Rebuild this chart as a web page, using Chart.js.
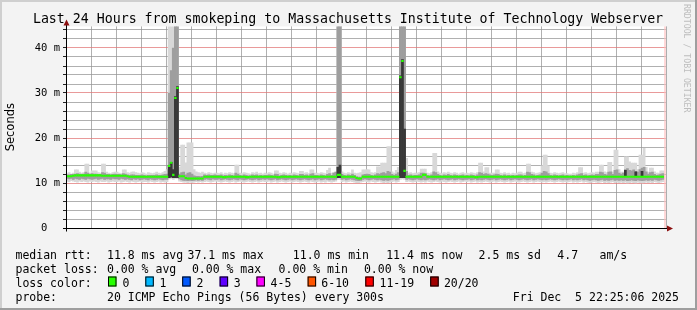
<!DOCTYPE html>
<html><head><meta charset="utf-8">
<script src="https://cdn.jsdelivr.net/npm/chart.js@4.4.1/dist/chart.umd.min.js"></script>
<style>html,body{margin:0;padding:0;background:#f3f3f3;overflow:hidden}</style>
</head><body>
<canvas id="c" width="697" height="310"></canvas>
<script>
// ---------- data (5-minute samples, 288 per 24 h, starting Thu 22:25:06) ----------
const timeLabels = ['Fri 00:00','Fri 04:00','Fri 08:00','Fri 12:00','Fri 16:00','Fri 20:00'];
const yLabels = ['0  ','10 m','20 m','30 m','40 m'];

// median RTT (ms)
const med = [
11.5,11.5,11.5,11.6,11.7,11.7,11.7,11.7,11.7,11.7,11.7,11.7,11.7,11.7,11.7,11.7,11.7,11.6,11.6,11.6,11.6,11.6,11.6,11.6,
11.6,11.6,11.6,11.6,11.6,11.5,11.4,11.4,11.4,11.4,11.4,11.4,11.4,11.4,11.4,11.4,11.4,11.4,11.4,11.4,11.4,11.4,11.4,11.4,
11.4,13.8,14.5,11.8,28.9,31.1,11.5,11.5,11.5,11.1,11.0,11.0,11.0,11.0,11.0,11.0,11.0,11.0,11.4,11.4,11.4,11.4,11.4,11.4,
11.4,11.4,11.4,11.3,11.3,11.4,11.4,11.4,11.4,11.4,11.4,11.4,11.4,11.4,11.3,11.3,11.4,11.4,11.4,11.4,11.4,11.4,11.4,11.4,
11.4,11.4,11.4,11.4,11.4,11.3,11.3,11.4,11.4,11.4,11.4,11.4,11.4,11.4,11.4,11.4,11.4,11.4,11.4,11.4,11.4,11.4,11.4,11.4,
11.4,11.4,11.4,11.4,11.4,11.4,11.4,11.4,11.4,11.4,11.8,11.8,11.4,11.4,11.4,11.4,11.4,11.4,11.4,11.1,11.0,11.0,11.4,11.4,
11.4,11.4,11.4,11.4,11.4,11.4,11.4,11.4,11.4,11.4,11.4,11.4,11.4,11.4,11.4,11.4,33.5,37.1,12.7,11.4,11.4,11.4,11.4,11.4,
11.4,11.4,11.4,11.8,11.8,11.4,11.4,11.4,11.4,11.4,11.4,11.4,11.4,11.4,11.4,11.4,11.4,11.4,11.4,11.4,11.4,11.4,11.4,11.4,
11.4,11.4,11.4,11.4,11.3,11.3,11.4,11.4,11.4,11.4,11.4,11.4,11.4,11.4,11.4,11.4,11.4,11.4,11.4,11.4,11.4,11.4,11.4,11.4,
11.4,11.4,11.4,11.4,11.4,11.4,11.4,11.4,11.4,11.4,11.4,11.4,11.4,11.4,11.4,11.4,11.4,11.4,11.4,11.4,11.4,11.4,11.4,11.4,
11.4,11.4,11.4,11.4,11.4,11.4,11.4,11.4,11.4,11.4,11.4,11.4,11.4,11.4,11.4,11.4,11.4,11.4,11.4,11.4,11.4,11.4,11.4,11.4,
11.4,11.4,11.4,11.4,11.4,11.4,11.4,11.4,11.4,11.4,11.4,11.4,11.4,11.4,11.4,11.4,11.4,11.4,11.4,11.4,11.4,11.4,11.4,null];

// lowest ping of each sample (ms)
const lo = [
10.4,10.3,10.5,10.4,10.3,10.2,10.4,10.3,10.4,10.3,10.2,10.4,10.3,10.4,10.3,10.2,10.4,10.3,10.3,10.4,10.2,10.3,10.4,10.3,
10.3,10.4,10.2,10.3,10.4,10.3,10.2,10.4,10.3,10.2,10.3,10.4,10.2,10.3,10.3,10.2,10.4,10.3,10.2,10.3,10.4,10.2,10.3,10.2,
10.3,10.9,11.0,10.8,11.0,11.0,10.4,10.3,10.2,10.2,10.1,10.2,10.1,10.2,10.3,10.2,10.3,10.2,10.3,10.4,10.3,10.2,10.3,10.4,
10.4,10.3,10.2,10.3,10.4,10.3,10.2,10.3,10.4,10.2,10.3,10.4,10.3,10.2,10.3,10.4,10.3,10.2,10.3,10.4,10.2,10.3,10.4,10.3,
10.3,10.4,10.2,10.3,10.4,10.2,10.3,10.4,10.3,10.2,10.3,10.4,10.2,10.3,10.4,10.3,10.2,10.3,10.4,10.3,10.2,10.4,10.3,10.2,
10.3,10.4,10.2,10.3,10.2,10.4,10.3,10.2,10.3,10.4,10.8,10.8,10.3,10.4,10.2,10.3,10.4,10.3,10.2,10.1,10.1,10.2,10.3,10.4,
10.3,10.2,10.4,10.3,10.2,10.3,10.4,10.2,10.1,10.2,10.1,10.2,10.3,10.4,10.2,10.3,10.8,10.9,10.8,10.3,10.4,10.3,10.2,10.3,
10.4,10.3,10.2,10.3,10.2,10.4,10.3,10.2,10.3,10.4,10.3,10.2,10.4,10.3,10.2,10.3,10.4,10.3,10.2,10.3,10.4,10.2,10.3,10.4,
10.3,10.4,10.2,10.3,10.4,10.2,10.3,10.2,10.3,10.4,10.3,10.2,10.3,10.4,10.2,10.3,10.4,10.3,10.2,10.3,10.4,10.2,10.3,10.4,
10.3,10.2,10.3,10.4,10.3,10.2,10.3,10.4,10.2,10.3,10.4,10.3,10.2,10.3,10.2,10.3,10.4,10.3,10.2,10.3,10.4,10.3,10.2,10.3,
10.2,10.3,10.4,10.2,10.3,10.2,10.3,10.4,10.2,10.3,10.2,10.1,10.2,10.3,10.2,10.1,10.2,10.3,10.1,10.2,10.1,10.2,10.3,10.1,
10.2,10.1,10.2,10.1,10.2,10.0,10.1,10.2,10.1,10.0,10.2,10.1,10.0,10.1,10.2,10.1,10.2,10.1,10.3,10.2,10.1,10.2,10.3,null];

// highest ping of each sample (ms); 50 = off the top of the graph
const hi = [
12.1,12.3,12.0,12.2,12.9,12.9,12.4,12.2,12.3,14.2,14.2,12.2,12.7,12.7,12.7,12.3,12.2,14.2,14.2,12.4,12.2,12.1,12.3,12.4,
12.4,12.2,12.1,12.9,12.9,12.3,12.2,12.4,12.5,12.3,12.2,12.1,12.3,12.2,12.0,12.3,12.2,12.1,12.2,12.4,12.2,12.1,12.3,12.6,
13.0,50,50,50,50,50,13.5,18.4,18.4,14.5,18.9,18.9,18.9,13.0,12.5,12.3,12.2,12.4,12.2,12.1,12.3,12.2,12.1,12.2,
12.2,12.1,12.3,12.0,12.2,12.1,12.3,12.2,12.1,14.0,14.0,12.2,12.1,12.3,12.2,12.1,12.0,12.3,12.2,12.4,12.1,12.2,12.0,12.2,
12.1,12.3,12.2,12.0,12.7,12.7,12.2,12.1,12.3,12.2,12.0,12.2,12.1,12.3,12.2,12.1,12.6,12.6,12.2,12.3,12.1,12.9,12.9,12.2,
12.2,12.1,12.3,12.2,12.1,12.8,13.3,12.2,12.3,12.4,50,50,12.5,12.2,12.1,12.3,12.2,12.9,12.2,12.1,12.2,12.3,12.9,12.9,
13.0,12.9,12.3,12.2,12.3,13.6,13.6,14.4,14.4,14.4,18.1,18.1,12.5,12.2,12.8,13.5,50,50,50,15.5,12.2,12.3,12.1,12.2,
12.2,12.3,13.1,13.1,13.1,12.2,12.1,12.3,16.6,16.6,12.5,12.2,12.1,12.3,12.2,12.4,12.2,12.1,12.3,12.2,12.0,12.2,12.3,12.1,
12.2,12.1,12.3,12.2,12.1,12.3,14.4,14.4,12.5,13.4,13.4,12.2,12.2,12.2,12.9,12.9,12.2,12.1,12.3,12.1,12.2,12.0,12.2,12.1,
12.2,12.4,12.4,12.1,12.2,14.2,14.2,12.4,12.3,12.1,12.2,12.3,13.8,16.2,16.2,13.8,12.2,12.1,12.3,12.2,12.1,12.2,12.3,12.1,
12.1,12.0,12.0,12.2,12.1,12.3,13.4,13.4,12.2,12.3,12.1,12.2,12.3,12.2,12.4,12.4,14.0,14.0,12.5,12.3,14.6,14.6,12.4,17.3,
17.3,13.0,12.4,12.4,15.8,15.8,14.7,14.4,14.4,14.4,13.0,16.2,16.2,17.7,13.5,12.4,13.3,13.3,12.5,12.2,12.2,12.7,12.7,null];

// inner (denser) part of the smoke: lower and upper bound (ms)
const q1 = [
11.0,10.9,11.0,10.8,11.0,10.9,10.8,11.0,10.9,10.8,11.0,10.9,10.8,10.9,11.0,10.8,10.9,11.0,10.8,10.9,10.9,10.8,11.0,10.9,
10.9,10.8,11.0,10.9,10.8,10.9,10.8,10.7,10.9,10.8,10.9,10.7,10.8,10.9,10.8,10.7,10.9,10.8,10.7,10.8,10.9,10.8,10.7,10.8,
10.8,11.3,11.4,11.2,11.3,11.3,10.9,10.7,10.6,10.6,10.5,10.6,10.5,10.6,10.7,10.6,10.7,10.6,10.8,10.9,10.8,10.7,10.9,10.8,
10.8,10.9,10.7,10.8,10.9,10.8,10.7,10.8,10.9,10.8,10.7,10.9,10.8,10.7,10.8,10.9,10.8,10.7,10.8,10.9,10.7,10.8,10.9,10.8,
10.9,10.8,10.7,10.8,10.9,10.7,10.8,10.9,10.8,10.7,10.8,10.9,10.7,10.8,10.9,10.8,10.7,10.8,10.9,10.8,10.7,10.8,10.9,10.7,
10.8,10.9,10.7,10.8,10.9,10.8,10.7,10.8,10.7,10.8,11.2,11.2,10.8,10.9,10.7,10.8,10.9,10.8,10.7,10.6,10.5,10.6,10.8,10.9,
10.8,10.7,10.8,10.9,10.8,10.7,10.8,10.7,10.6,10.7,10.6,10.7,10.8,10.9,10.7,10.8,11.2,11.2,11.2,10.8,10.9,10.8,10.7,10.8,
10.9,10.8,10.7,10.8,10.7,10.8,10.9,10.8,10.7,10.8,10.9,10.7,10.8,10.9,10.8,10.7,10.8,10.9,10.7,10.8,10.9,10.8,10.7,10.8,
10.8,10.9,10.7,10.8,10.9,10.7,10.8,10.7,10.8,10.9,10.8,10.7,10.8,10.9,10.7,10.8,10.9,10.8,10.7,10.8,10.9,10.7,10.8,10.9,
10.8,10.7,10.8,10.9,10.8,10.7,10.8,10.9,10.7,10.8,10.9,10.8,10.7,10.8,10.7,10.8,10.9,10.8,10.7,10.8,10.9,10.8,10.7,10.8,
10.7,10.8,10.9,10.7,10.8,10.7,10.8,10.9,10.7,10.8,10.7,10.6,10.7,10.8,10.7,10.6,10.7,10.8,10.6,10.7,10.6,10.7,10.8,10.6,
10.7,10.6,10.7,10.6,10.7,10.5,10.6,10.7,10.6,10.5,10.7,10.6,10.5,10.6,10.7,10.6,10.7,10.6,10.8,10.7,10.6,10.7,10.8,null];
const q3 = [
11.8,11.8,11.9,11.9,12.0,12.1,12.0,11.9,12.0,12.4,12.2,11.9,12.1,12.0,12.0,11.9,11.9,12.3,12.2,11.9,11.9,11.8,11.9,12.0,
11.9,11.9,11.8,12.1,12.0,11.8,11.7,11.8,11.8,11.7,11.7,11.7,11.8,11.7,11.6,11.7,11.7,11.7,11.7,11.8,11.7,11.7,11.8,11.9,
12.0,30,35,40,50,50,12.0,12.3,12.4,11.8,12.2,12.3,12.0,11.6,11.5,11.5,11.4,11.5,11.8,11.7,11.8,11.7,11.7,11.8,
11.7,11.7,11.8,11.6,11.7,11.6,11.8,11.7,11.6,12.2,12.0,11.7,11.6,11.8,11.7,11.6,11.6,11.8,11.7,11.8,11.6,11.7,11.6,11.7,
11.7,11.8,11.7,11.6,12.0,11.9,11.6,11.7,11.8,11.7,11.6,11.7,11.6,11.8,11.7,11.6,11.9,11.9,11.7,11.8,11.6,12.0,12.1,11.7,
11.7,11.6,11.8,11.7,11.6,11.9,12.1,11.7,12.2,12.4,50,45,11.9,11.7,11.6,11.8,11.7,12.0,11.7,11.4,11.3,11.3,11.8,11.9,
12.0,11.9,11.7,11.6,11.8,12.1,12.0,12.2,12.3,12.1,12.6,12.4,11.9,11.7,12.0,12.3,50,50,50,12.6,11.7,11.8,11.6,11.7,
11.7,11.8,12.2,12.2,12.1,11.7,11.6,11.8,12.5,12.3,11.9,11.7,11.6,11.8,11.7,11.9,11.7,11.6,11.8,11.7,11.6,11.7,11.8,11.6,
11.7,11.6,11.8,11.7,11.6,11.8,12.3,12.2,11.9,12.1,12.0,11.8,11.7,11.8,12.0,11.9,11.7,11.6,11.8,11.6,11.7,11.6,11.7,11.6,
11.7,11.8,11.8,11.6,11.7,12.4,12.3,11.9,11.8,11.6,11.7,11.8,12.2,12.6,12.5,12.1,11.7,11.6,11.8,11.7,11.6,11.7,11.8,11.6,
11.7,11.6,11.6,11.7,11.6,11.8,12.0,12.1,11.7,11.8,11.6,11.7,11.8,11.7,11.9,11.9,12.4,12.3,11.9,11.8,12.4,12.5,11.9,12.8,
12.9,12.2,12.0,12.2,13.0,13.2,12.8,12.7,12.9,12.6,12.4,13.0,13.3,13.5,12.5,12.0,12.3,12.4,11.9,11.7,11.8,12.0,12.1,null];

// darkest core of the smoke, only where it stands out (sample index, low, high)
const darkBins = [49, 50, 51, 52, 53, 130, 131, 160, 161, 162, 268, 273, 276];
const darkLo   = [11.2,11.3,11.2,11.2,11.2,11.2,11.2,11.2,11.2,11.2,11.5,11.4,11.4];
const darkHi   = [13.9,14.6,13.0,29.2,31.4,13.5,14.0,33.8,37.4,22.0,12.8,12.5,12.6];

const rttStats  = ['11.8 ms avg','37.1 ms max','11.0 ms min','11.4 ms now','2.5 ms sd','4.7','am/s'];
const lossStats = ['0.00 % avg','0.00 % max','0.00 % min','0.00 % now'];
const lossLabels = ['0','1','2','3','4-5','6-10','11-19','20/20'];
const lossColors = ['#26ff00','#00b8ff','#0059ff','#5e00ff','#ff00ff','#ff5500','#ff0000','#a10000'];

// ---------- chart ----------
const START_H = -(1 + (34 + 54/60) / 60);   // Thu 22:25:06 relative to Fri 00:00, in hours
const binX = i => START_H + (i + 0.5) / 12;

function bandData(a, b) {
  const out = [];
  for (let i = 0; i < a.length; i++) {
    if (a[i] == null || b[i] == null) continue;
    out.push({x: binX(i), y: [a[i], b[i]]});
  }
  return out;
}
const medData = [];
med.forEach((v, i) => { if (v != null) medData.push({x: binX(i), y: v}); });
const darkData = darkBins.map((b, k) => ({x: binX(b), y: [darkLo[k], darkHi[k]]}));

const MONO = '"DejaVu Sans Mono", monospace';
const RED_GRID = 'rgba(226,120,120,0.75)';
const GRAY_GRID = 'rgba(150,150,150,0.75)';

const barCommon = {type: 'bar', grouped: false, barPercentage: 1, categoryPercentage: 1, borderWidth: 0};

const deco = {
  id: 'deco',
  beforeDraw(chart) {
    const {ctx, chartArea: a, width: W, height: H} = chart;
    ctx.save();
    ctx.fillStyle = '#f3f3f3'; ctx.fillRect(0, 0, W, H);
    ctx.fillStyle = '#cfcfcf'; ctx.fillRect(0, 0, W, 2); ctx.fillRect(0, 0, 2, H);
    ctx.fillStyle = '#9e9e9e'; ctx.fillRect(0, H - 2, W, 2); ctx.fillRect(W - 2, 0, 2, H);
    ctx.fillStyle = '#ffffff'; ctx.fillRect(a.left, a.top, a.right - a.left, a.bottom - a.top);
    ctx.restore();
  },
  afterDatasetsDraw(chart) {
    const {ctx, chartArea: a} = chart;
    ctx.save();
    ctx.fillStyle = 'rgba(255,190,190,0.6)';
    ctx.fillRect(a.right - 2, a.top, 2, a.bottom - a.top);
    ctx.restore();
  },
  afterDraw(chart) {
    const {ctx, chartArea: a} = chart;
    ctx.save();
    // axes
    ctx.strokeStyle = '#000'; ctx.lineWidth = 1;
    ctx.beginPath();
    ctx.moveTo(a.left + 0.5, a.bottom + 3.5); ctx.lineTo(a.left + 0.5, a.top - 3);
    ctx.moveTo(a.left - 3, a.bottom + 0.5); ctx.lineTo(a.right + 3, a.bottom + 0.5);
    ctx.stroke();
    ctx.fillStyle = '#8b0f0f';
    ctx.beginPath();
    ctx.moveTo(a.left + 0.5, a.top - 7); ctx.lineTo(a.left - 2.5, a.top - 1); ctx.lineTo(a.left + 3.5, a.top - 1); ctx.closePath();
    ctx.fill();
    ctx.beginPath();
    ctx.moveTo(a.right + 7, a.bottom + 0.5); ctx.lineTo(a.right + 1, a.bottom - 2.5); ctx.lineTo(a.right + 1, a.bottom + 3.5); ctx.closePath();
    ctx.fill();

    // title
    ctx.fillStyle = '#000';
    ctx.font = '13.25px ' + MONO;
    ctx.textAlign = 'center'; ctx.textBaseline = 'alphabetic';
    ctx.fillText('Last 24 Hours from smokeping to Massachusetts Institute of Technology Webserver', 348, 23);

    // legend
    ctx.font = '11.5px ' + MONO;
    ctx.textAlign = 'left';
    const r1 = 258.6, r2 = 272.7, r3 = 286.8, r4 = 300.8;
    ctx.fillText('median rtt:', 15.5, r1);
    const rttX = [107, 187.5, 292.8, 386.2, 478.6, 557.3, 599.5];
    rttStats.forEach((t, k) => ctx.fillText(t, rttX[k], r1));
    ctx.fillText('packet loss:', 15.5, r2);
    const lossX = [107, 191.9, 278.6, 363.9];
    lossStats.forEach((t, k) => ctx.fillText(t, lossX[k], r2));
    ctx.fillText('loss color:', 15.5, r3);
    const boxX = [108, 145.3, 182.2, 219.6, 256.4, 307.6, 365.3, 430.2];
    const labX = [122.5, 159.5, 196.4, 233.7, 270.6, 321.3, 379.5, 443.9];
    lossLabels.forEach((t, k) => {
      ctx.fillStyle = lossColors[k];
      ctx.fillRect(boxX[k], 276.5, 8.5, 10);
      ctx.strokeStyle = '#000'; ctx.lineWidth = 1;
      ctx.strokeRect(boxX[k] + 0.5, 277, 7.5, 9);
      ctx.fillStyle = '#000';
      ctx.fillText(t, labX[k], r3);
    });
    ctx.fillText('probe:', 15.5, r4);
    ctx.fillText('20 ICMP Echo Pings (56 Bytes) every 300s', 107, r4);
    ctx.fillText('Fri Dec  5 22:25:06 2025', 512.8, r4);

    // rrdtool credit
    ctx.translate(686.5, 4);
    ctx.rotate(Math.PI / 2);
    ctx.font = '8.2px ' + MONO;
    ctx.fillStyle = '#bdbdbd';
    ctx.textBaseline = 'middle';
    ctx.fillText('RRDTOOL / TOBI OETIKER', 0, 0);
    ctx.restore();
  }
};

new Chart(document.getElementById('c'), {
  type: 'bar',
  data: {
    datasets: [
      {type: 'line', label: 'median', data: medData, order: 0, showLine: false,
       pointStyle: 'line', pointRadius: 1.2, pointHoverRadius: 1.2, pointBorderWidth: 2.1,
       pointBorderColor: '#26ff00', pointBackgroundColor: '#26ff00'},
      Object.assign({label: 'core', data: darkData, order: 1, backgroundColor: '#383838'}, barCommon),
      Object.assign({label: 'inner', data: bandData(q1, q3), order: 2, backgroundColor: '#9e9e9e'}, barCommon),
      Object.assign({label: 'outer', data: bandData(lo, hi), order: 3, backgroundColor: '#d8d8d8'}, barCommon)
    ]
  },
  options: {
    responsive: false,
    devicePixelRatio: 1,
    animation: false,
    events: [],
    layout: {padding: {left: 0, right: 31, top: 26.4, bottom: 0}},
    plugins: {legend: {display: false}, tooltip: {enabled: false}, title: {display: false}},
    scales: {
      x: {
        type: 'linear', position: 'bottom', offset: false,
        min: START_H, max: START_H + 24,
        border: {display: false},
        grid: {
          offset: false, lineWidth: 1, borderDash: [1, 1],
          color: c => (c.tick && c.tick.value % 2 === 0) ? RED_GRID : GRAY_GRID,
          drawTicks: true, tickLength: 3, tickBorderDash: [],
          tickColor: c => (c.tick && c.tick.value % 2 === 0) ? '#000' : 'rgba(0,0,0,0)'
        },
        ticks: {
          stepSize: 1, includeBounds: false, autoSkip: false, maxTicksLimit: 1000,
          maxRotation: 0, minRotation: 0, padding: 1, color: '#000',
          font: {family: MONO, size: 10},
          callback: v => (v >= 0 && v % 4 === 0) ? timeLabels[v / 4] : ''
        },
        afterFit: s => { s.height = 82; }
      },
      y: {
        type: 'linear', position: 'left', min: 0, max: 44.8,
        border: {display: false},
        grid: {
          lineWidth: 1, borderDash: [1, 1],
          color: c => (c.tick && c.tick.value % 10 === 0) ? RED_GRID : GRAY_GRID,
          drawTicks: true, tickLength: 3, tickBorderDash: [], tickColor: '#222'
        },
        ticks: {
          stepSize: 2, includeBounds: false, autoSkip: false, maxTicksLimit: 1000,
          padding: 3, color: '#000', font: {family: MONO, size: 10.5},
          callback: v => (v % 10 === 0) ? yLabels[v / 10] : ''
        },
        title: {display: true, text: 'Seconds', color: '#000',
                font: {family: '"DejaVu Sans", sans-serif', size: 11.5}, padding: {top: 4, bottom: 0}},
        afterFit: s => { s.width = 66; }
      }
    }
  },
  plugins: [deco]
});
</script>
</body></html>
